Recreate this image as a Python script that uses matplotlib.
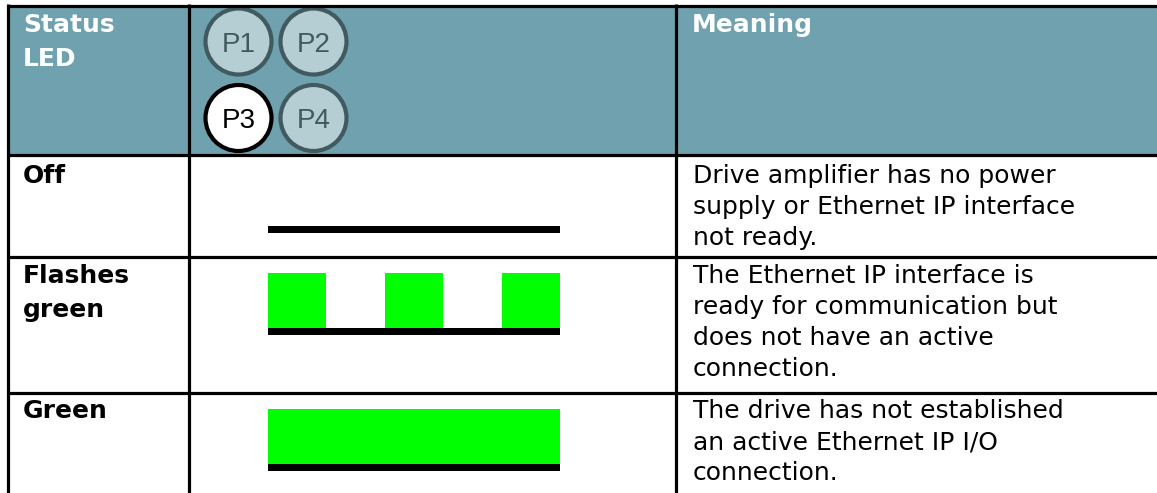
import matplotlib
matplotlib.use("Agg")
import matplotlib.pyplot as plt
from matplotlib.patches import Rectangle, Circle

# ---- content ----
header_status = ["Status", "LED"]
header_meaning = ["Meaning"]
port_labels = ["P1", "P2", "P3", "P4"]
active_port = "P3"
status_labels = [["Off"], ["Flashes", "green"], ["Green"]]
meanings = [
    ["Drive amplifier has no power", "supply or Ethernet IP interface", "not ready."],
    ["The Ethernet IP interface is", "ready for communication but",
     "does not have an active", "connection."],
    ["The drive has not established", "an active Ethernet IP I/O", "connection."],
]
led_patterns = [[0, 0, 0, 0, 0], [1, 0, 1, 0, 1], [1, 1, 1, 1, 1]]

# ---- style ----
W, H = 1157, 493
HEADER_BG = "#6FA1AE"
PORT_FILL = "#B4CED4"
PORT_EDGE = "#405A5F"
LED_GREEN = "#00FF00"
FONT = "DejaVu Sans"
PORT_FONT = "Liberation Sans"

fig = plt.figure(figsize=(W / 100, H / 100), dpi=100)
ax = fig.add_axes([0, 0, 1, 1])
ax.set_xlim(0, W)
ax.set_ylim(H, 0)
ax.axis("off")

# table geometry (pixels)
x_left, x_c1, x_c2, x_right = 8, 189, 676, W
y_top, y_head = 5, 155
row_bounds = [155, 257, 393, H]

# header background
ax.add_patch(Rectangle((x_left, y_top), x_right - x_left, y_head - y_top,
                       facecolor=HEADER_BG, edgecolor="none", zorder=0))

# grid lines
lw = 2.3
for y in [y_top + 0.5, row_bounds[0], row_bounds[1], row_bounds[2]]:
    ax.plot([x_left - 1.5, x_right], [y, y], color="black", lw=lw,
            solid_capstyle="butt", zorder=5)
for x in [x_left, x_c1, x_c2]:
    ax.plot([x, x], [y_top - 1, H], color="black", lw=lw,
            solid_capstyle="butt", zorder=5)

fs = 18
# header text
for i, t in enumerate(header_status):
    ax.text(23, 32 + i * 33.5, t, color="white", fontsize=fs, fontweight="bold",
            family=FONT, va="baseline", ha="left")
for i, t in enumerate(header_meaning):
    ax.text(692, 32 + i * 33.5, t, color="white", fontsize=fs, fontweight="bold",
            family=FONT, va="baseline", ha="left")

# port circles
port_centers = [(238.5, 41.5), (313.5, 41.5), (238.5, 118), (313.5, 118)]
for lab, (cx, cy) in zip(port_labels, port_centers):
    active = lab == active_port
    ax.add_patch(Circle((cx, cy), 33, facecolor="white" if active else PORT_FILL,
                        edgecolor="black" if active else PORT_EDGE,
                        lw=3.0, zorder=3))
    ax.text(cx, cy + 10.5, lab, color="black" if active else PORT_EDGE,
            fontsize=20, family=PORT_FONT, ha="center", va="baseline", zorder=4)

# rows
first_baselines = [183, 283, 418]
for r in range(3):
    b = first_baselines[r]
    for i, t in enumerate(status_labels[r]):
        ax.text(23, b + i * 33.5, t, color="black", fontsize=fs, fontweight="bold",
                family=FONT, va="baseline", ha="left")
    for i, t in enumerate(meanings[r]):
        ax.text(693, b + i * 31, t, color="black", fontsize=fs,
                family=FONT, va="baseline", ha="left")

# LED pattern diagrams
led_x0, led_x1 = 268, 560
bar_bottoms = [233, 335, 471]
bar_h, green_h = 7, 55
for pattern, yb in zip(led_patterns, bar_bottoms):
    seg_w = (led_x1 - led_x0) / len(pattern)
    for k, on in enumerate(pattern):
        if on:
            ax.add_patch(Rectangle((led_x0 + k * seg_w, yb - bar_h - green_h),
                                   seg_w, green_h, facecolor=LED_GREEN,
                                   edgecolor="none", zorder=2))
    ax.add_patch(Rectangle((led_x0, yb - bar_h), led_x1 - led_x0, bar_h,
                           facecolor="black", edgecolor="none", zorder=2))

fig.savefig("out.png", dpi=100)
